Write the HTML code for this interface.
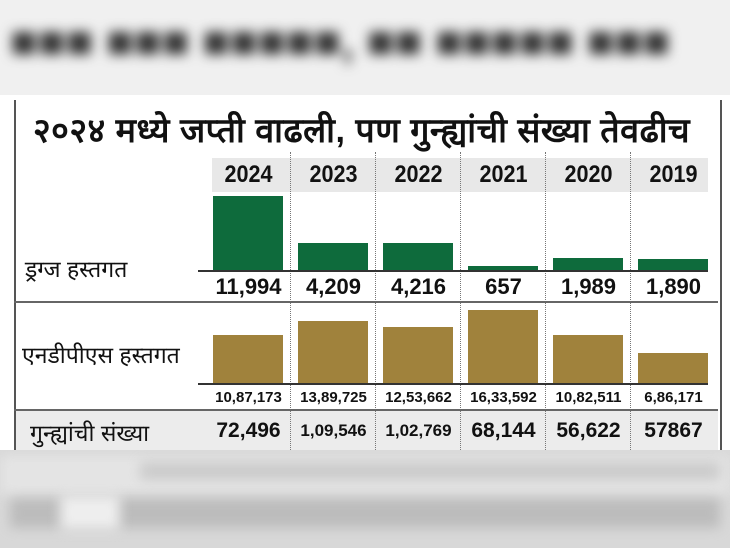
<!DOCTYPE html>
<html><head><meta charset="utf-8"><style>
body{margin:0;width:730px;height:548px;overflow:hidden;background:#fff;font-family:"Liberation Sans","Noto Sans CJK SC",sans-serif;position:relative}
.a{position:absolute}
.blur{filter:blur(6px)}
.yr{position:absolute;top:161px;width:85px;text-align:center;font-weight:bold;font-size:24px;color:#111;transform:scaleX(0.9)}
.v{position:absolute;width:85px;text-align:center;font-weight:bold;color:#111}
.dv{position:absolute;top:152px;height:298px;border-left:1px dotted #777}
</style></head><body>
<div class="a" style="left:0;top:0;width:730px;height:95px;background:#f0f0f0;overflow:hidden">
<div class="a blur" style="left:10px;top:14px;font-size:46px;font-weight:bold;color:#333;white-space:nowrap">■■■ ■■■ ■■■■■, ■■ ■■■■■ ■■■</div>
</div>
<div class="a" style="left:14px;top:100px;width:704px;height:350px;border-left:2px solid #555;border-right:2px solid #555"></div>
<div class="a" style="left:33px;top:106px;font-size:34px;font-weight:bold;color:#111;white-space:nowrap;letter-spacing:0.5px">२०२४ मध्ये जप्ती वाढली, पण गुन्ह्यांची संख्या तेवढीच</div>
<div class="a" style="left:212px;top:158px;width:496px;height:34px;background:#e8e8e8"></div>
<div class="yr" style="left:206px">2024</div><div class="yr" style="left:291px">2023</div><div class="yr" style="left:376px">2022</div><div class="yr" style="left:461px">2021</div><div class="yr" style="left:546px">2020</div><div class="yr" style="left:631px">2019</div>
<div class="dv" style="left:290px"></div><div class="dv" style="left:375px"></div><div class="dv" style="left:460px"></div><div class="dv" style="left:545px"></div><div class="dv" style="left:630px"></div>
<div class="a" style="background:#0e6b3c;left:213px;top:196px;width:70px;height:75px"></div>
<div class="a" style="background:#0e6b3c;left:298px;top:243px;width:70px;height:28px"></div>
<div class="a" style="background:#0e6b3c;left:383px;top:243px;width:70px;height:28px"></div>
<div class="a" style="background:#0e6b3c;left:468px;top:266px;width:70px;height:5px"></div>
<div class="a" style="background:#0e6b3c;left:553px;top:258px;width:70px;height:13px"></div>
<div class="a" style="background:#0e6b3c;left:638px;top:259px;width:70px;height:12px"></div>
<div class="a" style="left:198px;top:270px;width:510px;height:2px;background:#333"></div>
<div class="a" style="left:25px;top:252px;font-size:23px;color:#111">ड्रग्ज हस्तगत</div>
<div class="v" style="left:206px;top:274px;font-size:22px">11,994</div><div class="v" style="left:291px;top:274px;font-size:22px">4,209</div><div class="v" style="left:376px;top:274px;font-size:22px">4,216</div><div class="v" style="left:461px;top:274px;font-size:22px">657</div><div class="v" style="left:546px;top:274px;font-size:22px">1,989</div><div class="v" style="left:631px;top:274px;font-size:22px">1,890</div>
<div class="a" style="left:14px;top:301px;width:704px;height:2px;background:#666"></div>
<div class="a" style="background:#a0823c;left:213px;top:335px;width:70px;height:49px"></div>
<div class="a" style="background:#a0823c;left:298px;top:321px;width:70px;height:63px"></div>
<div class="a" style="background:#a0823c;left:383px;top:327px;width:70px;height:57px"></div>
<div class="a" style="background:#a0823c;left:468px;top:310px;width:70px;height:74px"></div>
<div class="a" style="background:#a0823c;left:553px;top:335px;width:70px;height:49px"></div>
<div class="a" style="background:#a0823c;left:638px;top:353px;width:70px;height:31px"></div>
<div class="a" style="left:198px;top:383px;width:510px;height:2px;background:#333"></div>
<div class="a" style="left:22px;top:338px;font-size:23px;color:#111">एनडीपीएस हस्तगत</div>
<div class="v" style="left:206px;top:389px;font-size:15px">10,87,173</div><div class="v" style="left:291px;top:389px;font-size:15px">13,89,725</div><div class="v" style="left:376px;top:389px;font-size:15px">12,53,662</div><div class="v" style="left:461px;top:389px;font-size:15px">16,33,592</div><div class="v" style="left:546px;top:389px;font-size:15px">10,82,511</div><div class="v" style="left:631px;top:389px;font-size:15px">6,86,171</div>
<div class="a" style="left:14px;top:409px;width:704px;height:2px;background:#666"></div>
<div class="a" style="left:16px;top:411px;width:702px;height:39px;background:#ececec"></div>
<div class="dv" style="left:290px;top:411px;height:39px"></div><div class="dv" style="left:375px;top:411px;height:39px"></div><div class="dv" style="left:460px;top:411px;height:39px"></div><div class="dv" style="left:545px;top:411px;height:39px"></div><div class="dv" style="left:630px;top:411px;height:39px"></div>
<div class="a" style="left:30px;top:416px;font-size:23px;color:#111">गुन्ह्यांची संख्या</div>
<div class="v" style="left:206px;top:419px;font-size:21px">72,496</div><div class="v" style="left:291px;top:421px;font-size:17px">1,09,546</div><div class="v" style="left:376px;top:421px;font-size:17px">1,02,769</div><div class="v" style="left:461px;top:419px;font-size:21px">68,144</div><div class="v" style="left:546px;top:419px;font-size:21px">56,622</div><div class="v" style="left:631px;top:419px;font-size:21px">57867</div>
<div class="a" style="left:0;top:450px;width:730px;height:98px;background:#d8d8d8;overflow:hidden">
<div class="a blur" style="left:0;top:5px;width:730px;height:40px;background:#e4e4e4"></div>
<div class="a blur" style="left:140px;top:12px;width:580px;height:18px;background:#bbb;opacity:.6"></div>
<div class="a blur" style="left:10px;top:48px;width:710px;height:30px;background:#aaa;opacity:.6"></div>
<div class="a blur" style="left:60px;top:45px;width:60px;height:35px;background:#eee"></div>
</div>
</body></html>
